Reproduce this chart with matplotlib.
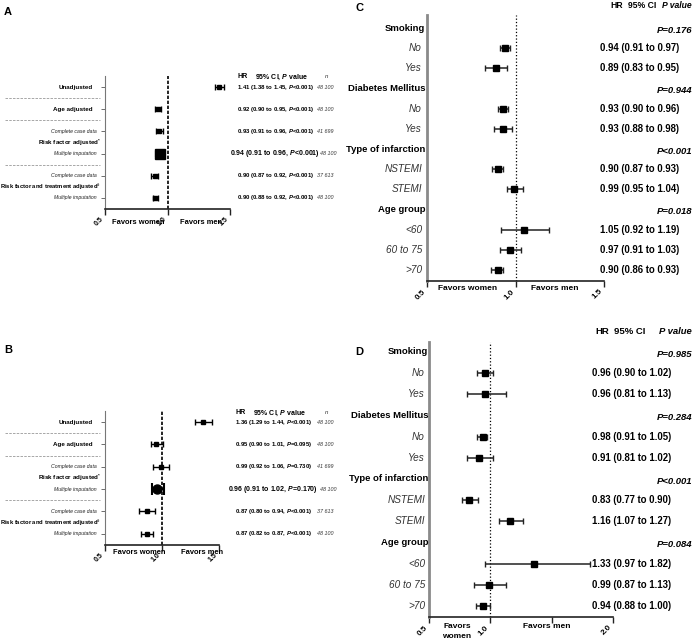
import matplotlib
matplotlib.use("Agg")
import matplotlib.pyplot as plt
import matplotlib.transforms as mtransforms
import numpy as np

FONT = "Liberation Sans"
plt.rcParams["font.family"] = [FONT, "DejaVu Sans"]
plt.rcParams["mathtext.fontset"] = "custom"
plt.rcParams["mathtext.rm"] = f"{FONT}:bold"
plt.rcParams["mathtext.it"] = f"{FONT}:italic:bold"
plt.rcParams["mathtext.bf"] = f"{FONT}:bold"

# ---------------------------------------------------------------- data
# panels A / B: overall models
ab_labels = ["Unadjusted", "Age adjusted", "Complete case data", "Multiple imputation",
             "Complete case data", "Multiple imputation"]
ab_groups = ["Risk factor adjusted$^{*}$", r"Risk factor and treatment adjusted$^{\#}$"]
ab_n = ["48 100", "48 100", "41 699", "48 100", "37 613", "48 100"]

a_hr = [1.41, 0.92, 0.93, 0.94, 0.90, 0.90]
a_lo = [1.38, 0.90, 0.91, 0.91, 0.87, 0.88]
a_hi = [1.45, 0.95, 0.96, 0.96, 0.92, 0.92]
a_text = ["1.41 (1.38 to 1.45, $P$<0.001)", "0.92 (0.90 to 0.95, $P$<0.001)",
          "0.93 (0.91 to 0.96, $P$<0.001)", "0.94 (0.91 to 0.96, $P$<0.001)",
          "0.90 (0.87 to 0.92, $P$<0.001)", "0.90 (0.88 to 0.92, $P$<0.001)"]

b_hr = [1.36, 0.95, 0.99, 0.96, 0.87, 0.87]
b_lo = [1.29, 0.90, 0.92, 0.91, 0.80, 0.82]
b_hi = [1.44, 1.01, 1.06, 1.02, 0.94, 0.92]
b_text = ["1.36 (1.29 to 1.44, $P$<0.001)", "0.95 (0.90 to 1.01, $P$=0.095)",
          "0.99 (0.92 to 1.06, $P$=0.730)", "0.96 (0.91 to 1.02, $P$=0.170)",
          "0.87 (0.80 to 0.94, $P$<0.001)", "0.87 (0.82 to 0.87, $P$<0.001)"]

# panels C / D: subgroups
groups = ["Smoking", "Diabetes Mellitus", "Type of infarction", "Age group"]
subs = [["No", "Yes"], ["No", "Yes"], ["NSTEMI", "STEMI"], ["<60", "60 to 75", ">70"]]

c_p = ["P=0.176", "P=0.944", "P<0.001", "P=0.018"]
c_hr = [0.94, 0.89, 0.93, 0.93, 0.90, 0.99, 1.05, 0.97, 0.90]
c_lo = [0.91, 0.83, 0.90, 0.88, 0.87, 0.95, 0.92, 0.91, 0.86]
c_hi = [0.97, 0.95, 0.96, 0.98, 0.93, 1.04, 1.19, 1.03, 0.93]
c_text = ["0.94 (0.91 to 0.97)", "0.89 (0.83 to 0.95)", "0.93 (0.90 to 0.96)",
          "0.93 (0.88 to 0.98)", "0.90 (0.87 to 0.93)", "0.99 (0.95 to 1.04)",
          "1.05 (0.92 to 1.19)", "0.97 (0.91 to 1.03)", "0.90 (0.86 to 0.93)"]

d_p = ["P=0.985", "P=0.284", "P<0.001", "P=0.084"]
d_hr = [0.96, 0.96, 0.94, 0.91, 0.83, 1.16, 1.36, 0.99, 0.94]
d_lo = [0.89, 0.81, 0.89, 0.81, 0.77, 1.07, 0.96, 0.87, 0.88]
d_hi = [1.02, 1.13, 0.975, 1.02, 0.90, 1.27, 1.81, 1.13, 1.00]
d_text = ["0.96 (0.90 to 1.02)", "0.96 (0.81 to 1.13)", "0.98 (0.91 to 1.05)",
          "0.91 (0.81 to 1.02)", "0.83 (0.77 to 0.90)", "1.16 (1.07 to 1.27)",
          "1.33 (0.97 to 1.82)", "0.99 (0.87 to 1.13)", "0.94 (0.88 to 1.00)"]

# ---------------------------------------------------------------- layout helpers
W, H = 694, 643
fig = plt.figure(figsize=(W / 100, H / 100), dpi=100)


def add_axes(x0, y0, x1, y1):
    return fig.add_axes([x0 / W, 1 - y1 / H, (x1 - x0) / W, (y1 - y0) / H])


def txt(ax, xpx, y, s, **kw):
    tr = mtransforms.blended_transform_factory(fig.transFigure, ax.transData)
    kw.setdefault("va", "center")
    return ax.text(xpx / W, y, s, transform=tr, clip_on=False, **kw)


def ftxt(xpx, ypx, s, **kw):
    kw.setdefault("va", "center")
    return fig.text(xpx / W, 1 - ypx / H, s, **kw)


def style_axes(ax, xlim, ylim, ticks, ticklabels, spine_lw, spine_col, tick_fs):
    ax.set_xlim(*xlim)
    ax.set_ylim(*ylim)
    for s in ("top", "right"):
        ax.spines[s].set_visible(False)
    ax.spines["left"].set_color(spine_col)
    ax.spines["left"].set_linewidth(spine_lw)
    ax.spines["bottom"].set_color("#222222")
    ax.spines["bottom"].set_linewidth(1.2)
    ax.set_xticks(ticks)
    ax.set_xticklabels(ticklabels, rotation=45, ha="right", va="top",
                       fontsize=tick_fs, fontweight="bold")
    ax.tick_params(axis="x", length=4, width=1.0, pad=1, color="#222222")


def panel_ab(ax, hr, lo, hi, texts, xt, head_y, big_fmt):
    hr, lo, hi = map(np.asarray, (hr, lo, hi))
    rows = np.arange(len(hr))
    style_axes(ax, (0.5, 1.5), (5.5, -0.5), [0.5, 1.0, 1.5], ["0.5", "1.0", "1.5"],
               0.8, "#777777", 5)
    ax.set_yticks(rows)
    ax.set_yticklabels([])
    ax.tick_params(axis="y", length=3, width=0.6, color="#555555")
    ax.axvline(1.0, color="black", ls=(0, (2, 1)), lw=1.2)
    normal = rows != 3
    ax.errorbar(hr[normal], rows[normal], xerr=[hr[normal] - lo[normal], hi[normal] - hr[normal]],
                fmt="s", ms=3.2, color="black", ecolor="black", elinewidth=1,
                capsize=2, capthick=1)
    ax.errorbar([hr[3]], [3], xerr=[[hr[3] - lo[3]], [hi[3] - hr[3]]], **big_fmt)

    tr = mtransforms.blended_transform_factory(fig.transFigure, ax.transData)
    for i, lab in enumerate(ab_labels):
        if lab in ("Complete case data", "Multiple imputation"):
            txt(ax, 97, i, lab, ha="right", fontsize=3.7, fontstyle="italic", color="#222222")
        else:
            txt(ax, 93, i, lab, ha="right", fontsize=4.5, fontweight="bold")
        big = i == 3
        txt(ax, xt - (7 if big else 0), i, texts[i], ha="left",
            fontsize=5.0 if big else 4.3, fontweight="bold")
        txt(ax, 317 + (3 if big else 0), i, ab_n[i], ha="left", fontsize=3.9,
            fontstyle="italic", color="#333333")
    txt(ax, 101, 2.5, ab_groups[0], ha="right", fontsize=4.5, fontweight="bold")
    txt(ax, 101, 4.5, ab_groups[1], ha="right", fontsize=4.2, fontweight="bold")
    for yy in (0.5, 1.5, 3.5):
        ax.plot([5 / W, 100 / W], [yy, yy], transform=tr, clip_on=False,
                color="#999999", lw=0.6, ls=(0, (3, 1.5)))
    ftxt(xt, head_y, "HR", ha="left", fontsize=5.0, fontweight="bold")
    ftxt(xt + 18, head_y, "95% CI, $P$ value", ha="left", fontsize=5.0, fontweight="bold")
    ftxt(325, head_y, "n", ha="left", fontsize=4.4, fontstyle="italic", color="#333333")


# ---------------------------------------------------------------- panel A
axA = add_axes(105, 76, 230, 209)
panel_ab(axA, a_hr, a_lo, a_hi, a_text, 237, 77,
         dict(fmt="s", ms=6.5, color="black", elinewidth=2.5, capsize=2.5, capthick=1.5))
ftxt(112, 222, "Favors women", ha="left", fontsize=5.4, fontweight="bold")
ftxt(180, 222, "Favors men", ha="left", fontsize=5.4, fontweight="bold")

# ---------------------------------------------------------------- panel B
axB = add_axes(105, 411, 219, 545)
panel_ab(axB, b_hr, b_lo, b_hi, b_text, 235, 413,
         dict(fmt="o", ms=6.5, color="black", elinewidth=1.5, capsize=4, capthick=1.5))
ftxt(113, 553, "Favors women", ha="left", fontsize=5.4, fontweight="bold")
ftxt(181, 553, "Favors men", ha="left", fontsize=5.4, fontweight="bold")


# ---------------------------------------------------------------- panels C / D
def panel_cd(ax, hr, lo, hi, texts, pvals, xlim, ticks, ticklabels, xval, label_x):
    hr, lo, hi = map(np.asarray, (hr, lo, hi))
    style_axes(ax, xlim, ax.get_ylim(), ticks, ticklabels, 2.0, "#8a8a8a", 5.8)
    ax.set_yticks([])
    ax.axvline(1.0, color="black", ls=":", lw=0.9)
    r = 0
    sub_rows = []
    for g, sl, p in zip(groups, subs, pvals):
        txt(ax, label_x, r, g, ha="right", fontsize=6.8, fontweight="bold")
        txt(ax, 692, r + 0.1, p, ha="right", fontsize=6.8, fontweight="bold",
            fontstyle="italic")
        r += 1
        for s in sl:
            txt(ax, label_x - 3, r, s, ha="right", fontsize=7.2, fontstyle="italic",
                color="#333333")
            sub_rows.append(r)
            r += 1
    sub_rows = np.asarray(sub_rows)
    ax.errorbar(hr, sub_rows, xerr=[hr - lo, hi - hr], fmt="s", ms=4.5, color="black",
                ecolor="#222222", elinewidth=1.1, capsize=2, capthick=1)
    for y, t in zip(sub_rows, texts):
        txt(ax, xval, y, t, ha="left", fontsize=6.9, fontweight="bold")


axC = add_axes(427, 15, 604, 281)
axC.set_ylim(12.545, -0.645)
panel_cd(axC, c_hr, c_lo, c_hi, c_text, c_p, (0.5, 1.5), [0.5, 1.0, 1.5],
         ["0.5", "1.0", "1.5"], 600, 425)
ftxt(610, 6, "HR", ha="left", fontsize=6.2, fontweight="bold")
ftxt(628, 6, "95% CI", ha="left", fontsize=6.2, fontweight="bold")
ftxt(692, 6, "P value", ha="right", fontsize=6.2, fontweight="bold", fontstyle="italic")
ftxt(438, 288, "Favors women", ha="left", fontsize=6.0, fontweight="bold")
ftxt(531, 288, "Favors men", ha="left", fontsize=6.0, fontweight="bold")

axD = add_axes(429, 342, 613, 617)
axD.set_ylim(12.52, -0.47)
panel_cd(axD, d_hr, d_lo, d_hi, d_text, d_p, (0.5, 2.0), [0.5, 1.0, 1.5, 2.0],
         ["0.5", "1.0", "", "2.0"], 592, 428)
ftxt(595, 332, "HR", ha="left", fontsize=6.8, fontweight="bold")
ftxt(614, 332, "95% CI", ha="left", fontsize=6.8, fontweight="bold")
ftxt(692, 332, "P value", ha="right", fontsize=6.8, fontweight="bold", fontstyle="italic")
ftxt(444, 626, "Favors", ha="left", fontsize=6.0, fontweight="bold")
ftxt(457, 637, "women", ha="center", fontsize=6.0, fontweight="bold")
ftxt(523, 626, "Favors men", ha="left", fontsize=6.0, fontweight="bold")

# ---------------------------------------------------------------- panel letters
for x, y, s in ((4, 12, "A"), (4, 350, "B"), (356, 8, "C"), (355, 352, "D")):
    ftxt(x, y, s, ha="left", fontsize=8, fontweight="bold")

fig.savefig("out.png", dpi=100)
